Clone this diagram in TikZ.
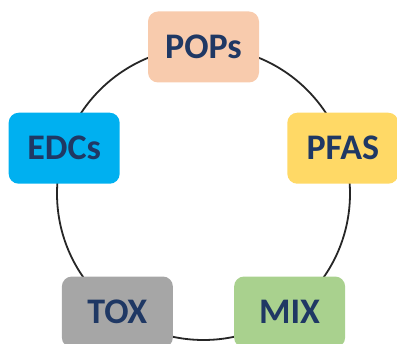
\documentclass[tikz,border=0pt]{standalone}
\usepackage{fontspec}
\setmainfont{Carlito}
\usetikzlibrary{calc}
\definecolor{popsc}{HTML}{F8CBAD}
\definecolor{edcsc}{HTML}{00B0F0}
\definecolor{pfasc}{HTML}{FFD966}
\definecolor{toxc}{HTML}{A6A6A6}
\definecolor{mixc}{HTML}{A9D18E}
\definecolor{txtc}{HTML}{1F3864}
\tikzset{
  tag/.style={rounded corners=10pt, minimum width=111pt, minimum height=71pt,
    inner sep=0pt, text=txtc, font=\fontsize{36}{42}\selectfont\bfseries},
  ring/.style={draw=black!85, line width=1.8pt}
}
\begin{document}
\begin{tikzpicture}[x=1pt,y=1pt]
\useasboundingbox (0,0) rectangle (397,-344);
\coordinate (c) at (203.5,-193.5);
\draw[ring] (c) circle (146.5);
\node[tag, fill=popsc] (pops) at ($(c)+(90:146.5)$) {POPs};
\node[tag, fill=edcsc] (edcs) at ($(c)+(162:146.5)$) {EDCs};
\node[tag, fill=pfasc] (pfas) at ($(c)+(18:146.5)$) {PFAS};
\node[tag, fill=toxc] (tox) at ($(c)+(234:146.5)$) {TOX};
\node[tag, fill=mixc] (mix) at ($(c)+(306:146.5)$) {MIX};
\end{tikzpicture}
\end{document}
